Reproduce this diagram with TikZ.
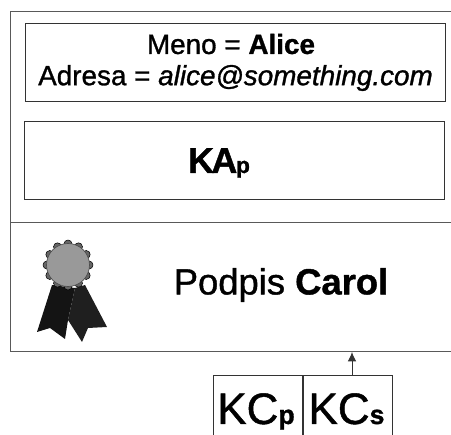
\documentclass[tikz,border=0pt]{standalone}
\usepackage{fontspec}
\setmainfont[RawFeature={embolden=1.1}]{Liberation Sans}
\usetikzlibrary{arrows.meta}

\begin{document}
\begin{tikzpicture}[x=0.75pt,y=0.75pt,>={Latex[length=7pt,width=6.5pt]},thick,
		frame node/.style={rectangle,draw=black!65,line width=1pt,inner sep=0pt,minimum width=345pt,anchor=north west},
		field node/.style={rectangle,draw=black!80,line width=0.6pt,inner sep=0pt,minimum width=315pt,minimum height=58.5pt},
		key node/.style={rectangle,draw=black!80,line width=0.6pt,inner sep=0pt,minimum width=67pt,minimum height=60pt,anchor=north west},
		label node/.style={inner sep=0pt}]
		\useasboundingbox (0,0) rectangle (451,-435);
		\node[frame node,minimum height=158.25pt] (upper) at (10,-11) {};
		\node[frame node,minimum height=96.75pt] (lower) at (10,-222) {};
		\node[field node] (name) at (235,-62) {};
		\node[field node] (public) at (234,-160) {};
		\node[label node,font=\fontsize{20.9}{20.9}\selectfont] (meno) at (231,-44) {Meno = \textbf{Alice}};
		\node[label node,font=\fontsize{20.9}{20.9}\selectfont] (adresa) at (235.5,-78) {Adresa = \textit{alice@something.com}};
		\node[label node,font=\bfseries\fontsize{27}{27}\selectfont,anchor=base] (kap) at (219,-173) {K\kern-2pt A\kern-1pt\fontsize{17}{17}\selectfont p};
		\node[label node,font=\fontsize{27.3}{27.3}\selectfont] (podpis) at (281,-285) {Podpis \textbf{Carol}};
		% seal
		\fill[black!92] (52,-285) -- (37,-332) -- (50,-328) -- (65,-339) -- (68,-320) -- (75,-288) -- cycle;
		\fill[black!88] (75,-288) -- (68,-320) -- (82,-342) -- (88,-328) -- (107,-327) -- (85,-285) -- cycle;
		\foreach \a in {0,30,...,330}
			\fill[black!60,draw=black,line width=0.4pt] (68,-265) ++(\a:21) circle (4);
		\fill[black!40,draw=black!70,line width=0.5pt] (68,-265) circle (21.5);
		\node[key node] (kcp) at (213,-375) {};
		\node[key node] (kcs) at (303,-375) {};
		\node[label node,font=\fontsize{33}{33}\selectfont,anchor=base] (kcptext) at (256,-424) {KC\bfseries\fontsize{20}{20}\selectfont p};
		\node[label node,font=\fontsize{33}{33}\selectfont,anchor=base] (kcstext) at (346.5,-424) {KC\bfseries\fontsize{20}{20}\selectfont s};
		\coordinate (sign) at (352,-375);
		\coordinate (cert) at (352,-352);
		\draw[->,black!80,line width=0.75pt] (sign) -- (cert);
\end{tikzpicture}
\end{document}
